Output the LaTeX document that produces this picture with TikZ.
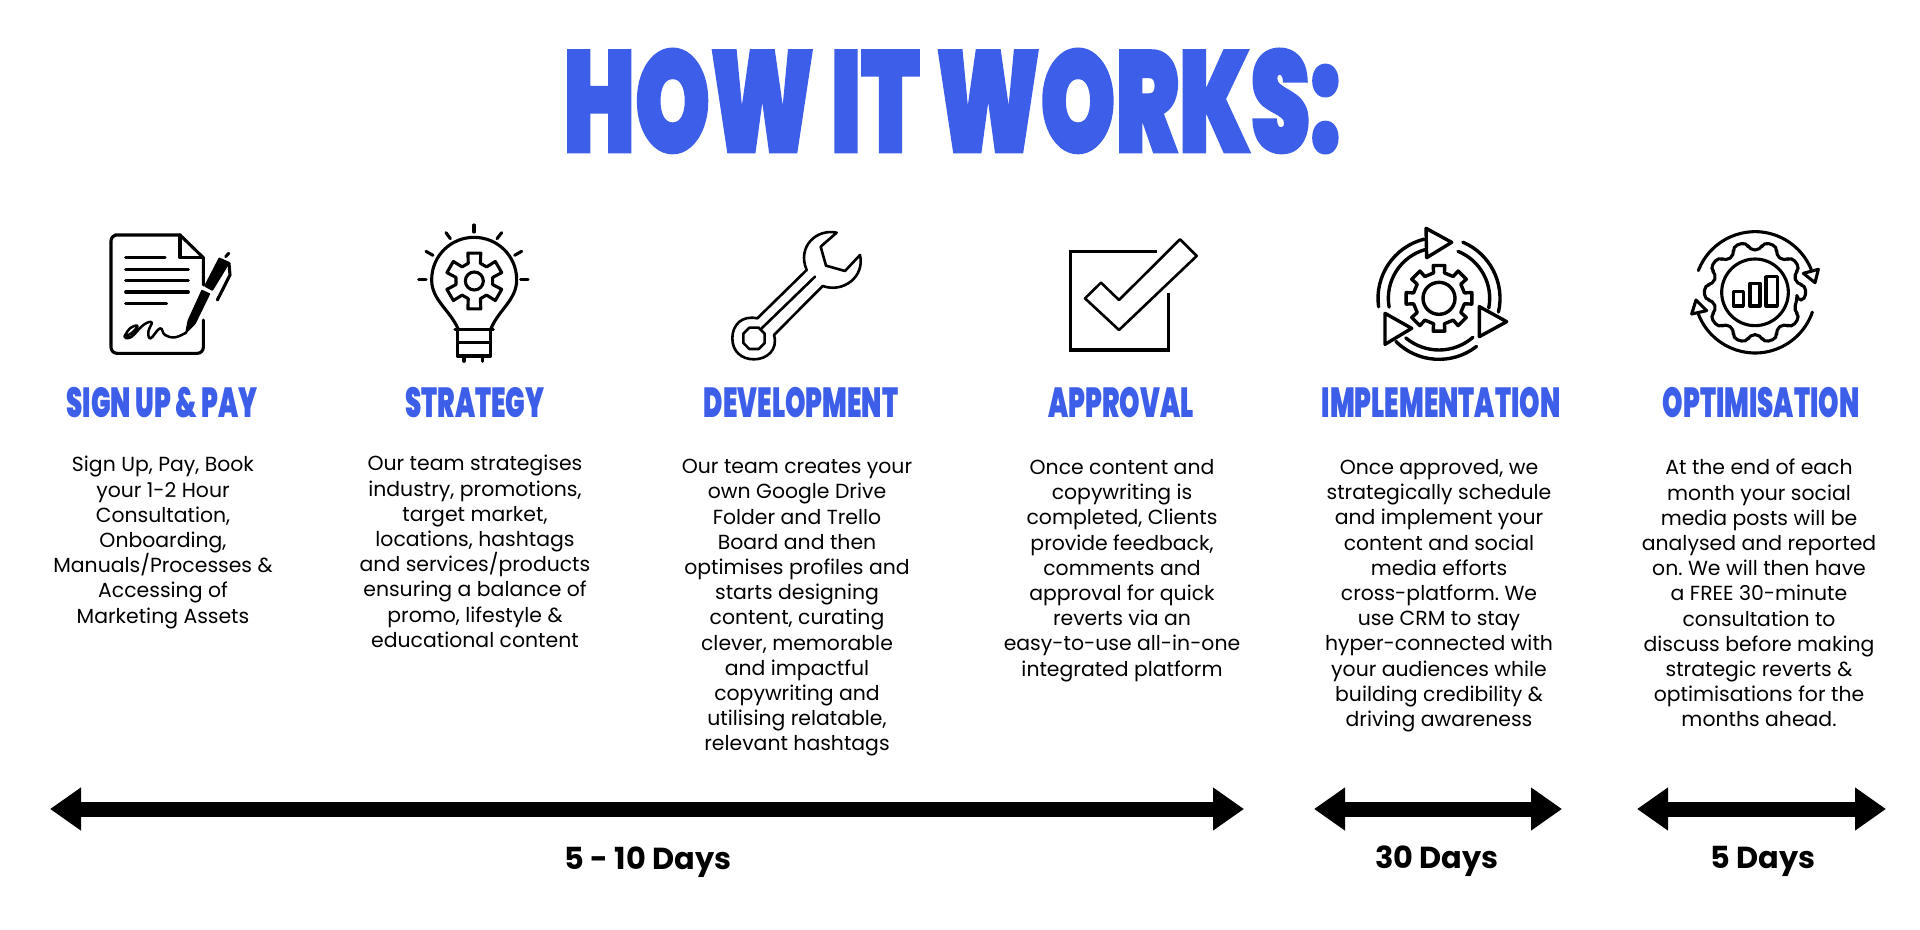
\documentclass[tikz,border=0pt]{standalone}
\usepackage{fontspec}
\usetikzlibrary{arrows.meta}
\setmainfont{Poppins}
\newfontfamily\impactfont[FakeStretch=0.62]{Poppins Black}
\newfontfamily\impacttitle[FakeStretch=0.66,FakeBold=1.5]{Poppins Black}
\definecolor{howblue}{HTML}{3D5EE8}
\tikzset{
  iconline/.style={line width=1.55pt,line cap=round,line join=round},
  titletext/.style={font=\impacttitle\fontsize{72}{72}\selectfont,text=howblue,inner sep=0pt},
  headtext/.style={font=\impactfont\fontsize{21}{21}\selectfont,text=howblue,inner sep=0pt},
  bodytext/.style={font=\frenchspacing\fontsize{10.2}{12.6}\selectfont,align=center,anchor=north,inner sep=0pt},
  daystext/.style={font=\bfseries\fontsize{15.2}{15.2}\selectfont,inner sep=0pt},
  spanarrow/.style={line width=7.5pt,{Triangle[length=15.5pt,width=20.5pt]}-{Triangle[length=15.5pt,width=20.5pt]}},
}
\begin{document}
\begin{tikzpicture}[x=0.5pt,y=-0.5pt]
\useasboundingbox (0,0) rectangle (1920,930);
\def\gearpath#1#2#3#4#5#6{\foreach \k in {1,...,#1}{ -- ({\k*360/#1+#2-#4}:#3) -- ({\k*360/#1+#2-#6}:#5) -- ({\k*360/#1+#2+#6}:#5) -- ({\k*360/#1+#2+#4}:#3)} -- cycle}

\node[titletext] (title) at (952,101) {HOW IT WORKS:};

% sign up icon
\begin{scope}[shift={(80,210)},scale=1/3,iconline]
\draw (370,225) -- (370,143) -- (300,75) -- (105,75) [rounded corners=3pt] -- (93,75) -- (93,430) -- (370,430) [sharp corners] -- (370,330);
\draw (300,75) -- (300,143) -- (370,143);
\draw (137,143) -- (255,143) (137,178) -- (325,178) (137,212) -- (325,212) (137,246) -- (325,246) (137,281) -- (260,281);
\draw[line width=1.25pt] plot[smooth,tension=.7] coordinates {(133,380) (150,355) (172,347) (160,365) (136,382) (155,380) (190,345) (215,337) (205,365) (212,385) (240,355) (255,375) (285,382) (318,368)};
\filldraw[line width=.8pt] (318,368) -- (325,332) -- (366,242) -- (388,252) -- (345,340) -- cycle;
\filldraw[line width=.8pt] (375,228) -- (418,145) -- (447,158) -- (397,240) -- cycle;
\draw (437,140) -- (446,130);
\draw (447,160) -- (450,195) -- (412,270);
\end{scope}

% strategy icon
\begin{scope}[shift={(80,210)},scale=1/3,iconline]
\draw (1135,358) .. controls (1110,300) and (1055,270) .. (1055,210) .. controls (1055,135) and (1115,82) .. (1182,82) .. controls (1250,82) and (1310,135) .. (1310,210) .. controls (1310,270) and (1255,300) .. (1232,358);
\draw (1125,358) -- (1240,358) (1132,358) -- (1132,438) -- (1232,438) -- (1232,358) (1132,398) -- (1232,398);
\draw (1152,440) -- (1152,454) (1208,440) -- (1208,454);
\foreach \a/\b/\c/\d in {1182/45/1182/66,1098/68/1111/86,1265/68/1251/86,1038/124/1059/136,1325/124/1304/136,1016/208/1038/208,1322/208/1344/208}
  \draw (\a,\b) -- (\c,\d);
\begin{scope}[shift={(1183,213)}]
\draw (0,0) circle (27);
\draw (49:56) \gearpath{6}{30}{56}{19}{86}{13};
\end{scope}
\end{scope}

% development icon
\begin{scope}[shift={(700,210)},scale=1/3,iconline,line width=1.3pt]
\draw (410,68) .. controls (350,55) and (290,110) .. (320,180) -- (172,325) .. controls (125,315) and (97,345) .. (97,385) .. controls (97,425) and (125,448) .. (162,448) .. controls (200,448) and (235,420) .. (222,375) -- (368,228) .. controls (430,250) and (495,200) .. (480,135) -- (435,183) -- (378,167) -- (362,110) -- cycle;
\draw (345,200) -- (185,355);
\draw (148,353) -- (176,353) -- (194,371) -- (194,399) -- (176,417) -- (148,417) -- (130,399) -- (130,371) -- cycle;
\end{scope}

% approval icon
\begin{scope}[shift={(700,210)},scale=1/3,iconline,line width=1.3pt]
\draw[line width=1.6pt,line cap=butt,line join=miter] (1370,125) -- (1112,125) -- (1112,420) -- (1405,420) -- (1405,250);
\draw (1440,88) -- (1490,138) -- (1257,360) -- (1155,265) -- (1203,218) -- (1257,270) -- cycle;
\end{scope}

% implementation icon
\begin{scope}[shift={(1350,210)},scale=1/3,iconline,line width=1.7pt]
\begin{scope}[shift={(267,265)}]
\draw (0,0) circle (48);
\draw (12:78) \gearpath{8}{0}{78}{12}{100}{10};
\draw (172:183) arc (172:256:183) (170:152) arc (170:254:152);
\draw (-67:183) arc (-67:13:183) (-68:152) arc (-68:11:152);
\draw (135:183) arc (135:52:183) (130:155) arc (130:49:155);
\end{scope}
\draw[fill=white] (228,55) -- (305,97) -- (230,143) -- cycle;
\draw[fill=white] (388,290) -- (470,335) -- (388,380) -- cycle;
\draw[fill=white] (105,310) -- (185,355) -- (105,403) -- cycle;
\end{scope}

% optimisation icon
\begin{scope}[shift={(1350,210)},scale=1/3,iconline]
\begin{scope}[shift={(1215,247)}]
\draw (0,0) circle (100);
\draw[rounded corners=2.5pt] (11:128) \gearpath{10}{0}{128}{11}{153}{8};
\draw (201:182) arc (201:338:182);
\draw (159:182) arc (159:19:182);
\end{scope}
\draw (1150,245) rectangle (1180,288) (1200,220) rectangle (1230,288) (1248,200) rectangle (1282,288);
\draw[fill=white] (1405,178) -- (1395,218) -- (1360,190) -- cycle;
\draw[fill=white] (1038,270) -- (1070,302) -- (1025,312) -- cycle;
\end{scope}

% column headings
\node[headtext] (signuphead) at (162,403) {SIGN UP \& PAY};
\node[headtext] (strategyhead) at (475,403) {STRATEGY};
\node[headtext] (devhead) at (801,403) {DEVELOPMENT};
\node[headtext] (approvalhead) at (1121,403) {APPROVAL};
\node[headtext] (implhead) at (1441,403) {IMPLEMENTATION};
\node[headtext] (optimhead) at (1761,403) {OPTIMISATION};

% column texts
\node[bodytext] (signuptext) at (163,456) {Sign Up, Pay, Book\\your 1-2 Hour\\Consultation,\\Onboarding,\\Manuals/Processes \&\\Accessing of\\Marketing Assets};
\node[bodytext] (strategytext) at (475,455) {Our team strategises\\industry, promotions,\\target market,\\locations, hashtags\\and services/products\\ensuring a balance of\\promo, lifestyle \&\\educational content};
\node[bodytext] (devtext) at (797,459) {Our team creates your\\own Google Drive\\Folder and Trello\\Board and then\\optimises profiles and\\starts designing\\content, curating\\clever, memorable\\and impactful\\copywriting and\\utilising relatable,\\relevant hashtags};
\node[bodytext] (approvaltext) at (1122,459) {Once content and\\copywriting is\\completed, Clients\\provide feedback,\\comments and\\approval for quick\\reverts via an\\easy-to-use all-in-one\\integrated platform};
\node[bodytext] (impltext) at (1439,459) {Once approved, we\\strategically schedule\\and implement your\\content and social\\media efforts\\cross-platform. We\\use CRM to stay\\hyper-connected with\\your audiences while\\building credibility \&\\driving awareness};
\node[bodytext] (optimtext) at (1759,459) {At the end of each\\month your social\\media posts will be\\analysed and reported\\on. We will then have\\a FREE 30-minute\\consultation to\\discuss before making\\strategic reverts \&\\optimisations for the\\months ahead.};

% duration arrows
\coordinate (spanastart) at (50,809);
\coordinate (spanaend) at (1244,809);
\coordinate (spanbstart) at (1314,809);
\coordinate (spanbend) at (1562,809);
\coordinate (spancstart) at (1637,809);
\coordinate (spancend) at (1886,809);
\draw[spanarrow] (spanastart) -- (spanaend);
\draw[spanarrow] (spanbstart) -- (spanbend);
\draw[spanarrow] (spancstart) -- (spancend);

\node[daystext] (spanalabel) at (648,862) {5 - 10 Days};
\node[daystext] (spanblabel) at (1437,861) {30 Days};
\node[daystext] (spanclabel) at (1763,861) {5 Days};
\end{tikzpicture}
\end{document}
